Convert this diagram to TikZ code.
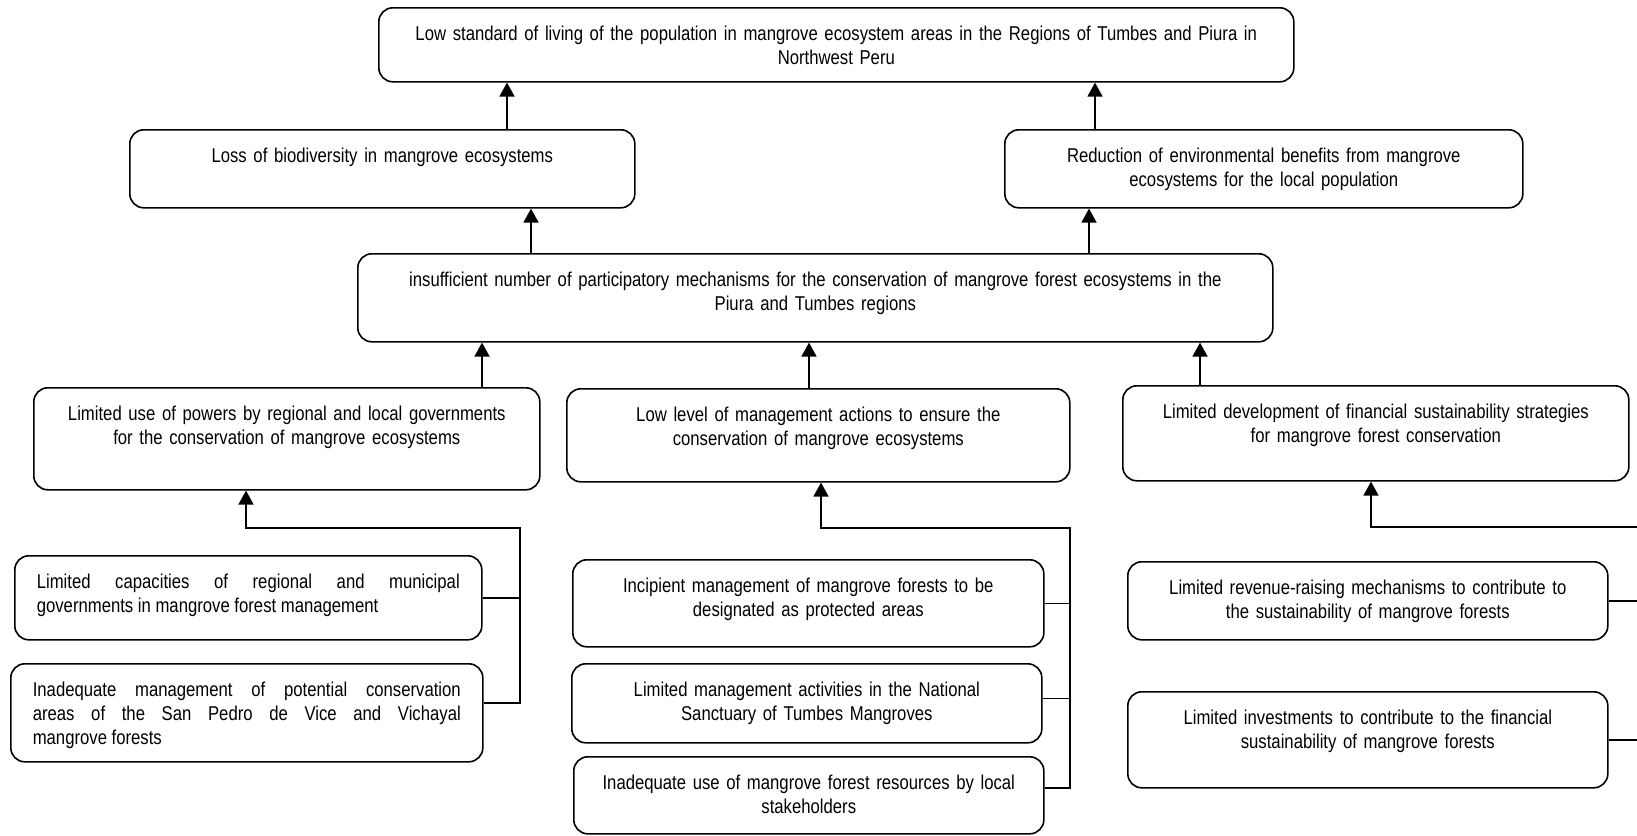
\documentclass[tikz,border=0pt]{standalone}
\usepackage{fontspec}
\setmainfont{Liberation Sans}[FakeStretch=0.835]
\usetikzlibrary{arrows.meta}

\begin{document}
\begin{tikzpicture}[x=0.5pt, y=-0.5pt, line width=0.8pt,
    every node/.style={draw, rounded corners=7pt, anchor=north west, align=center,
      font=\fontsize{10}{12}\selectfont, inner xsep=4pt, inner ysep=0pt, text height=16.5pt},
    arr/.style={-{Triangle[length=7pt, width=7.5pt]}}]
  \useasboundingbox (0,0) rectangle (1637,835);

  \node[text width=449.5pt, text depth=20.5pt] (top) at (378, 7) {Low standard of living of the population in mangrove ecosystem areas in the Regions of Tumbes and Piura in\\ Northwest Peru};

  \node[text width=244.5pt, text depth=22.5pt] (loss) at (129, 129) {Loss of biodiversity in mangrove ecosystems};
  \node[text width=251pt, text depth=22.5pt] (reduc) at (1004, 129) {Reduction of environmental benefits from mangrove\\ ecosystems for the local population};

  \node[text width=449.5pt, text depth=27.5pt] (mech) at (357, 253) {insufficient number of participatory mechanisms for the conservation of mangrove forest ecosystems in the\\ Piura and Tumbes regions};

  \node[text width=245pt, text depth=34.5pt] (powers) at (33, 387) {Limited use of powers by regional and local governments\\ for the conservation of mangrove ecosystems};
  \node[text width=243.5pt, text depth=30pt] (manag) at (566, 388) {Low level of management actions to ensure the\\ conservation of mangrove ecosystems};
  \node[text width=245pt, text depth=31pt] (finan) at (1122, 385) {Limited development of financial sustainability strategies\\ for mangrove forest conservation};

  \node[align=justify, inner xsep=11pt, text width=211.5pt, text depth=25.5pt] (capac) at (14, 555) {Limited capacities of regional and municipal\linebreak governments in mangrove forest management};
  \node[align=justify, inner xsep=11pt, text width=214pt, text depth=32.5pt] (vice) at (10, 663) {Inadequate management of potential conservation\linebreak areas of the San Pedro de Vice and Vichayal\linebreak mangrove forests};

  \node[text width=227.5pt, text depth=27pt] (incip) at (572, 559) {Incipient management of mangrove forests to be\\ designated as protected areas};
  \node[text width=227pt, text depth=23pt] (sanct) at (571, 663) {Limited management activities in the National\\ Sanctuary of Tumbes Mangroves};
  \node[text width=227pt, text depth=22pt] (resou) at (573, 756) {Inadequate use of mangrove forest resources by local\\ stakeholders};

  \node[text width=232pt, text depth=22.5pt] (reven) at (1127, 561) {Limited revenue-raising mechanisms to contribute to\\ the sustainability of mangrove forests};
  \node[text width=232pt, text depth=31.5pt] (invest) at (1127, 691) {Limited investments to contribute to the financial\\ sustainability of mangrove forests};

  \draw[arr] (loss.north -| 507,0) -- (top.south -| 507,0);
  \draw[arr] (reduc.north -| 1095,0) -- (top.south -| 1095,0);
  \draw[arr] (mech.north -| 531,0) -- (loss.south -| 531,0);
  \draw[arr] (mech.north -| 1089,0) -- (reduc.south -| 1089,0);
  \draw[arr] (powers.north -| 482,0) -- (mech.south -| 482,0);
  \draw[arr] (manag.north -| 809,0) -- (mech.south -| 809,0);
  \draw[arr] (finan.north -| 1200,0) -- (mech.south -| 1200,0);

  \draw (capac.east) -- (capac.east -| 520,0);
  \draw[arr] ([yshift=5pt]vice.east) -| (520,528) -| (powers.south -| 246,0);

  \draw (incip.east) -- (incip.east -| 1070,0);
  \draw ([yshift=2.5pt]sanct.east) -- ([yshift=2.5pt]sanct.east -| 1070,0);
  \draw[arr] ([yshift=3.75pt]resou.east) -| (1070,528) -| (manag.south -| 821,0);

  \draw (reven.east) -- (reven.east -| 1637,0);
  \draw (invest.east) -- (invest.east -| 1637,0);
  \draw[arr] (1637,527) -| (finan.south -| 1371,0);
\end{tikzpicture}
\end{document}
